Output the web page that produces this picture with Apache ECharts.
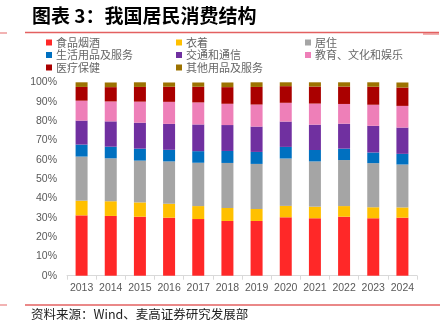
<!DOCTYPE html>
<html>
<head>
<meta charset="utf-8">
<script src="https://cdn.jsdelivr.net/npm/echarts@6/dist/echarts.min.js"></script>
<style>
html,body{margin:0;padding:0;background:#fff;}
#c{width:448px;height:325px;}
</style>
</head>
<body>
<div id="c"></div>
<script>
const years = ['2013','2014','2015','2016','2017','2018','2019','2020','2021','2022','2023','2024'];
const food      = [31.2,30.9,30.5,30.0,29.3,28.3,28.3,30.2,29.7,30.5,29.7,30.0];
const clothing  = [7.6,7.6,7.4,7.2,6.7,6.7,6.2,5.9,6.0,5.5,5.7,5.3];
const housing   = [22.8,22.2,21.6,21.9,22.4,23.3,23.3,24.5,23.4,23.8,22.8,22.2];
const household = [6.2,6.0,6.2,6.0,6.0,6.2,6.2,6.0,5.9,5.9,5.5,5.5];
const transport = [12.4,13.1,13.4,13.4,13.8,13.4,13.1,13.1,13.1,12.9,13.8,13.6];
const education = [10.3,10.3,10.9,11.4,11.4,11.0,11.4,9.7,10.9,10.2,10.9,11.2];
const medical   = [7.1,7.4,7.6,7.8,8.1,8.6,9.1,8.6,8.8,9.0,9.3,9.5];
const other     = [2.4,2.4,2.4,2.2,2.2,2.4,2.4,2.0,2.2,2.2,2.3,2.6];
const seriesNames = ['食品烟酒','衣着','居住','生活用品及服务','交通和通信','教育、文化和娱乐','医疗保健','其他用品及服务'];
const seriesData = [food,clothing,housing,household,transport,education,medical,other];
const colors = ['#FF2828','#FFC000','#A5A5A5','#0070C0','#7030A0','#EE7FB8','#AA0000','#9C7200'];
const yTicks = [0,10,20,30,40,50,60,70,80,90,100];

const cjk = '"Noto Sans CJK SC", sans-serif';
const chart = echarts.init(document.getElementById('c'), null, {renderer:'canvas'});
const legendBase = {
  orient:'vertical', itemWidth:6, itemHeight:6, itemGap:1.5, icon:'rect',
  selectedMode:false,
  textStyle:{fontFamily:cjk, fontSize:11, color:'#666666', padding:[0,0,0,-1]},
  padding:0
};
chart.setOption({
  animation:false,
  color:colors,
  graphic:[
    {type:'text', left:32, top:6, style:{text:'图表 3：我国居民消费结构', font:'bold 19px "Noto Sans CJK SC"', fill:'#000'}},
    {type:'line', shape:{x1:25,y1:32.5,x2:439,y2:32.5}, style:{stroke:'#E36060', lineWidth:1.5}},
    {type:'line', shape:{x1:0,y1:33,x2:7,y2:33}, style:{stroke:'#EE9A9A', lineWidth:1.5}},
    {type:'line', shape:{x1:423,y1:34,x2:439,y2:34}, style:{stroke:'#E36060', lineWidth:1}},
    {type:'line', shape:{x1:25,y1:305,x2:440,y2:305}, style:{stroke:'#E36060', lineWidth:1.5}},
    {type:'line', shape:{x1:0,y1:305,x2:7,y2:305}, style:{stroke:'#EE9A9A', lineWidth:1.5}},
    {type:'text', left:31, top:308, style:{text:'资料来源：Wind、麦高证券研究发展部', font:'12.5px "Noto Sans CJK SC"', fill:'#222'}}
  ],
  legend:[
    Object.assign({}, legendBase, {left:46, top:37, data:[seriesNames[0],seriesNames[3],seriesNames[6]]}),
    Object.assign({}, legendBase, {left:176, top:37, data:[seriesNames[1],seriesNames[4],seriesNames[7]]}),
    Object.assign({}, legendBase, {left:305, top:37, data:[seriesNames[2],seriesNames[5]]})
  ],
  grid:{left:67, right:31, top:82.3, bottom:49.3},
  xAxis:{
    type:'category', data:years,
    axisLine:{lineStyle:{color:'#D9D9D9', width:1}},
    axisTick:{show:true, length:4, lineStyle:{color:'#D9D9D9'}},
    axisLabel:{color:'#595959', fontSize:10.5, fontFamily:'Liberation Sans, Arial', margin:7, interval:0, hideOverlap:false}
  },
  yAxis:{
    type:'value', min:0, max:100, interval:10,
    axisLine:{show:false}, axisTick:{show:false}, splitLine:{show:false},
    axisLabel:{color:'#595959', fontSize:10.5, fontFamily:'Liberation Sans, Arial', margin:10,
      formatter:function(v){return yTicks.indexOf(v)>=0 ? v+'%' : '';}}
  },
  series: seriesNames.map((n,i)=>({
    name:n, type:'bar', stack:'total', barWidth:12, data:seriesData[i],
    itemStyle:{color:colors[i]}
  }))
});
</script>
</body>
</html>
